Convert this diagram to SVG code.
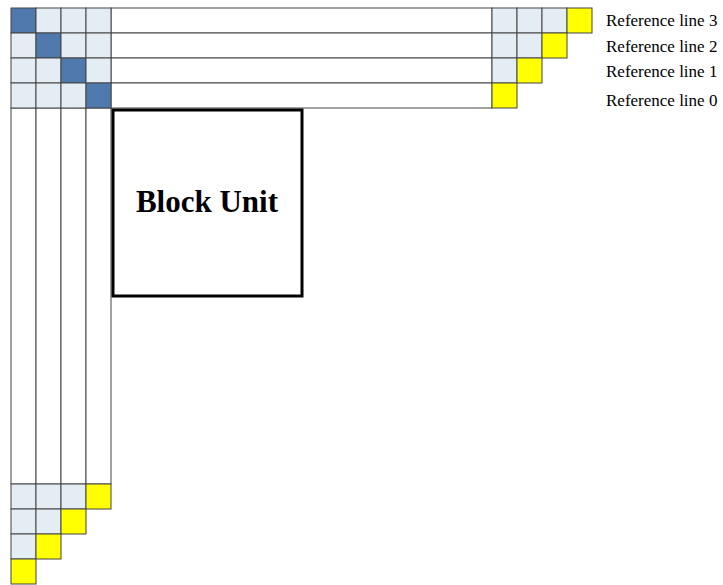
<svg xmlns="http://www.w3.org/2000/svg" width="723" height="585" viewBox="0 0 723 585">
<style>
.c{stroke:#444;stroke-width:1}
.w{fill:#fff}
.l{fill:#e4edf3}
.d{fill:#4f79ad}
.y{fill:#ffff00}
.t{font-family:"Liberation Serif",serif;font-size:17px;fill:#000}
</style>
<rect width="723" height="585" fill="#fff"/>
<g id="top-strips">
<rect class="c w" x="111" y="8" width="381" height="25"/>
<rect class="c w" x="111" y="33" width="381" height="25"/>
<rect class="c w" x="111" y="58" width="381" height="25"/>
<rect class="c w" x="111" y="83" width="381" height="25"/>
<rect class="c l" x="492" y="8" width="25" height="25"/>
<rect class="c l" x="517" y="8" width="25" height="25"/>
<rect class="c l" x="542" y="8" width="25" height="25"/>
<rect class="c y" x="567" y="8" width="25" height="25"/>
<rect class="c l" x="492" y="33" width="25" height="25"/>
<rect class="c l" x="517" y="33" width="25" height="25"/>
<rect class="c y" x="542" y="33" width="25" height="25"/>
<rect class="c l" x="492" y="58" width="25" height="25"/>
<rect class="c y" x="517" y="58" width="25" height="25"/>
<rect class="c y" x="492" y="83" width="25" height="25"/>
</g>
<g id="left-strips">
<rect class="c w" x="11" y="108" width="25" height="376"/>
<rect class="c w" x="36" y="108" width="25" height="376"/>
<rect class="c w" x="61" y="108" width="25" height="376"/>
<rect class="c w" x="86" y="108" width="25" height="376"/>
<rect class="c l" x="11" y="484" width="25" height="25"/>
<rect class="c l" x="36" y="484" width="25" height="25"/>
<rect class="c l" x="61" y="484" width="25" height="25"/>
<rect class="c y" x="86" y="484" width="25" height="25"/>
<rect class="c l" x="11" y="509" width="25" height="25"/>
<rect class="c l" x="36" y="509" width="25" height="25"/>
<rect class="c y" x="61" y="509" width="25" height="25"/>
<rect class="c l" x="11" y="534" width="25" height="25"/>
<rect class="c y" x="36" y="534" width="25" height="25"/>
<rect class="c y" x="11" y="559" width="25" height="25"/>
</g>
<g id="corner">
<rect class="c d" x="11" y="8" width="25" height="25"/>
<rect class="c l" x="36" y="8" width="25" height="25"/>
<rect class="c l" x="61" y="8" width="25" height="25"/>
<rect class="c l" x="86" y="8" width="25" height="25"/>
<rect class="c l" x="11" y="33" width="25" height="25"/>
<rect class="c d" x="36" y="33" width="25" height="25"/>
<rect class="c l" x="61" y="33" width="25" height="25"/>
<rect class="c l" x="86" y="33" width="25" height="25"/>
<rect class="c l" x="11" y="58" width="25" height="25"/>
<rect class="c l" x="36" y="58" width="25" height="25"/>
<rect class="c d" x="61" y="58" width="25" height="25"/>
<rect class="c l" x="86" y="58" width="25" height="25"/>
<rect class="c l" x="11" y="83" width="25" height="25"/>
<rect class="c l" x="36" y="83" width="25" height="25"/>
<rect class="c l" x="61" y="83" width="25" height="25"/>
<rect class="c d" x="86" y="83" width="25" height="25"/>
</g>
<g id="block-unit">
<rect x="113" y="110" width="189" height="186" fill="#fff" stroke="#000" stroke-width="3"/>
<text x="207" y="212" text-anchor="middle" font-family="Liberation Serif, serif" font-weight="bold" font-size="31">Block Unit</text>
</g>
<g id="labels">
<text class="t" x="606" y="26">Reference line 3</text>
<text class="t" x="606" y="52">Reference line 2</text>
<text class="t" x="606" y="77">Reference line 1</text>
<text class="t" x="606" y="106">Reference line 0</text>
</g>
<g id="connectors"/>
</svg>
